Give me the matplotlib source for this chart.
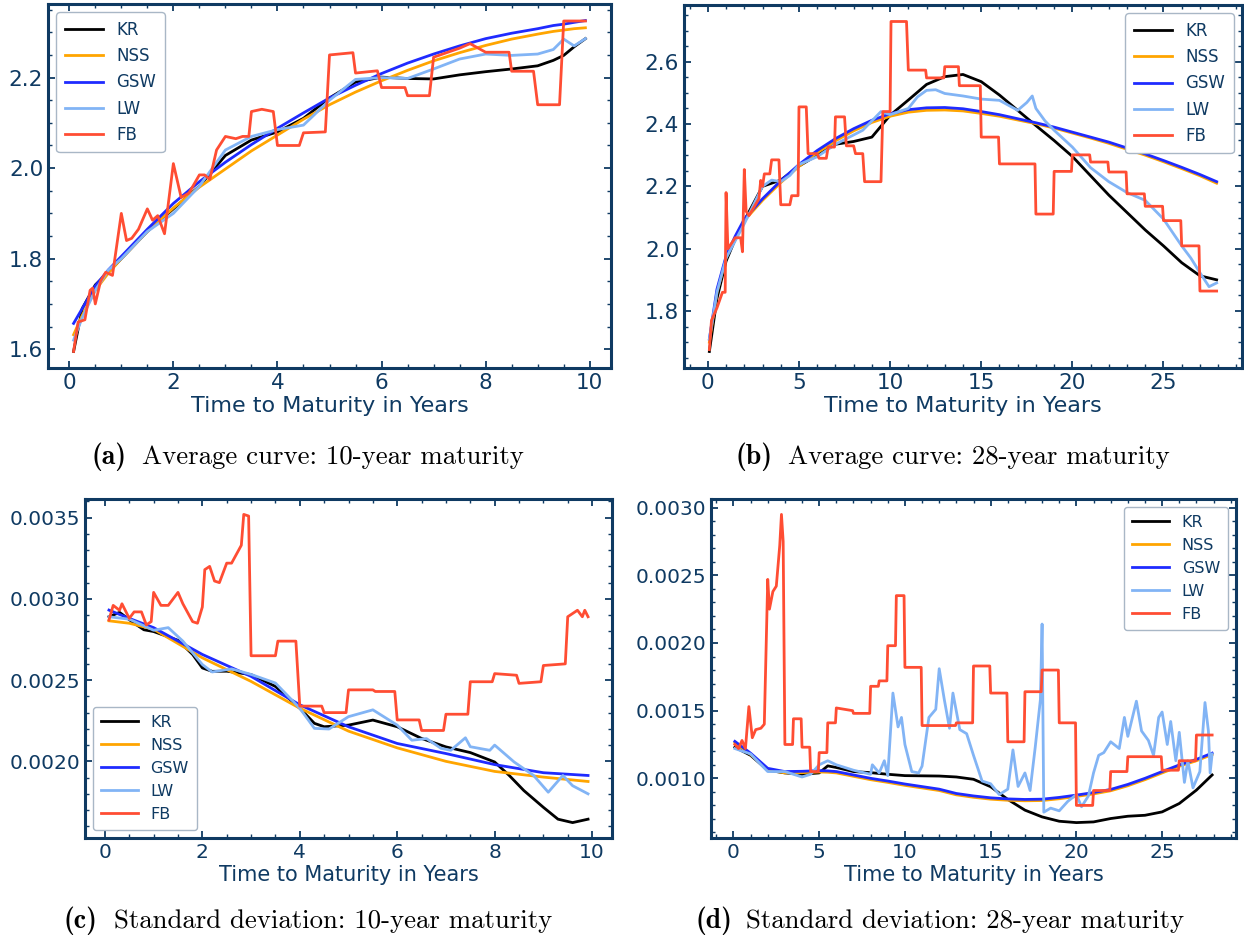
import matplotlib
matplotlib.use("Agg")
from matplotlib import pyplot as plt
from matplotlib.ticker import AutoMinorLocator

NAVY = "#0f3a62"
NAMES = ["KR", "NSS", "GSW", "LW", "FB"]
COLORS = {"KR": "black", "NSS": "#ffa500", "GSW": "#1f2bff", "LW": "#82b4f5", "FB": "#ff4d33"}

# ---- (a) average curve, 10-year maturity ----
a_x = [0.083, 0.25, 0.5, 0.75, 1, 1.5, 2, 2.5, 3, 3.5, 4, 4.5, 5, 5.5, 6, 6.5, 7, 7.5, 8, 8.5, 9, 9.3, 9.5, 9.7, 9.917]
a_gsw = [1.657, 1.69, 1.74, 1.775, 1.805, 1.865, 1.922, 1.97, 2.013, 2.052, 2.088, 2.122, 2.155, 2.183, 2.209,
         2.232, 2.252, 2.27, 2.286, 2.298, 2.308, 2.315, 2.318, 2.322, 2.326]
a_nss = [1.632, 1.675, 1.73, 1.768, 1.80, 1.86, 1.912, 1.958, 1.998, 2.038, 2.073, 2.108, 2.14, 2.168, 2.193,
         2.216, 2.237, 2.255, 2.271, 2.285, 2.296, 2.302, 2.305, 2.308, 2.31]
a_kr = [1.595, 1.69, 1.742, 1.77, 1.80, 1.86, 1.91, 1.96, 2.028, 2.062, 2.08, 2.11, 2.155, 2.19, 2.201,
        2.198, 2.197, 2.206, 2.213, 2.219, 2.226, 2.238, 2.249, 2.268, 2.286]
a_lw = [1.62, 1.67, 1.73, 1.775, 1.80, 1.86, 1.90, 1.96, 2.04, 2.07, 2.085, 2.095, 2.15, 2.196, 2.2,
        2.198, 2.219, 2.241, 2.252, 2.249, 2.252, 2.262, 2.285, 2.27, 2.286]
a_fb_x = [0.083, 0.17, 0.3, 0.4, 0.45, 0.5, 0.6, 0.7, 0.83, 1.0, 1.1, 1.2, 1.33, 1.5, 1.6, 1.7, 1.83, 2.0,
          2.15, 2.3, 2.5, 2.6, 2.7, 2.83, 3.0, 3.2, 3.33, 3.45, 3.5, 3.7, 3.92, 4.0, 4.42, 4.5, 4.92, 5.0,
          5.45, 5.5, 5.92, 6.0, 6.45, 6.5, 6.92, 7.0, 7.5, 7.7, 8.0, 8.45, 8.5, 8.92, 9.0, 9.42, 9.5, 9.917]
a_fb = [1.595, 1.66, 1.665, 1.73, 1.735, 1.70, 1.75, 1.77, 1.763, 1.90, 1.84, 1.845, 1.865, 1.91, 1.885,
        1.895, 1.855, 2.01, 1.935, 1.945, 1.985, 1.985, 1.975, 2.04, 2.07, 2.065, 2.07, 2.07, 2.125, 2.13,
        2.125, 2.05, 2.05, 2.078, 2.08, 2.25, 2.255, 2.21, 2.215, 2.178, 2.178, 2.16, 2.16, 2.245, 2.265,
        2.275, 2.256, 2.256, 2.214, 2.214, 2.14, 2.14, 2.325, 2.325]

# ---- (b) average curve, 28-year maturity ----
b_x = [0.083, 0.5, 1, 1.5, 2, 3, 4, 5, 6, 7, 8, 9, 10, 11, 12, 13, 14, 15, 16, 17, 18, 19, 20, 21, 22,
       23, 24, 25, 26, 27, 27.917]
b_gsw = [1.71, 1.87, 1.976, 2.04, 2.095, 2.16, 2.218, 2.27, 2.315, 2.353, 2.385, 2.412, 2.433, 2.446, 2.452,
         2.453, 2.449, 2.44, 2.43, 2.417, 2.404, 2.39, 2.374, 2.358, 2.342, 2.323, 2.304, 2.283, 2.261, 2.238, 2.215]
b_nss = [1.70, 1.86, 1.97, 2.035, 2.09, 2.155, 2.212, 2.264, 2.308, 2.346, 2.378, 2.405, 2.425, 2.438, 2.444,
         2.445, 2.442, 2.434, 2.425, 2.413, 2.401, 2.387, 2.371, 2.355, 2.338, 2.319, 2.3, 2.279, 2.257, 2.234, 2.21]
b_kr = [1.67, 1.84, 1.96, 2.03, 2.09, 2.2, 2.22, 2.265, 2.3, 2.335, 2.344, 2.358, 2.428, 2.477, 2.527,
        2.552, 2.559, 2.536, 2.493, 2.444, 2.395, 2.347, 2.296, 2.234, 2.172, 2.116, 2.06, 2.009, 1.955, 1.913, 1.9]
b_lw_x = [0.083, 0.5, 1, 2, 3, 3.5, 4, 4.5, 5, 6, 7, 8, 8.5, 9, 9.5, 10, 11, 11.5, 12, 12.5, 13, 14, 15, 16,
          17, 17.5, 17.8, 18, 18.5, 19, 20, 21, 22, 23, 24, 25, 26, 26.5, 27, 27.5, 27.917]
b_lw = [1.71, 1.86, 1.97, 2.08, 2.2, 2.22, 2.215, 2.235, 2.27, 2.295, 2.335, 2.365, 2.38, 2.41, 2.44, 2.43,
        2.45, 2.487, 2.508, 2.51, 2.498, 2.49, 2.48, 2.476, 2.444, 2.469, 2.49, 2.45, 2.41, 2.38, 2.326, 2.26,
        2.215, 2.18, 2.155, 2.095, 2.009, 1.97, 1.923, 1.878, 1.89]
b_fb_x = [0.083, 0.2, 0.5, 0.8, 0.95, 1.0, 1.1, 1.5, 1.8, 1.9, 2.0, 2.1, 2.25, 2.5, 2.8, 2.9, 3.0, 3.1, 3.4,
          3.5, 3.9, 4.0, 4.5, 4.6, 4.95, 5.0, 5.4, 5.5, 6.0, 6.1, 6.5, 6.6, 6.95, 7.0, 7.5, 7.6, 8.0, 8.1,
          8.5, 8.6, 9.5, 9.6, 10.0, 10.05, 10.9, 11.0, 11.95, 12.0, 12.95, 13.0, 13.75, 13.8, 14.95, 15.0,
          15.95, 16.0, 17.95, 18.0, 18.95, 19.0, 19.95, 20.0, 20.95, 21.0, 21.95, 22.0, 22.95, 23.0, 23.95,
          24.0, 24.95, 25.0, 25.95, 26.0, 26.95, 27.0, 27.917]
b_fb = [1.676, 1.77, 1.81, 1.86, 1.86, 2.18, 2.0, 2.035, 2.035, 1.99, 2.254, 2.12, 2.106, 2.13, 2.16, 2.219,
        2.2, 2.24, 2.24, 2.285, 2.285, 2.141, 2.141, 2.17, 2.17, 2.455, 2.455, 2.305, 2.305, 2.29, 2.29, 2.326,
        2.326, 2.423, 2.423, 2.33, 2.33, 2.305, 2.305, 2.215, 2.215, 2.44, 2.44, 2.729, 2.729, 2.573, 2.573,
        2.548, 2.548, 2.584, 2.584, 2.523, 2.523, 2.358, 2.358, 2.272, 2.272, 2.111, 2.111, 2.248, 2.248,
        2.301, 2.301, 2.278, 2.278, 2.246, 2.246, 2.176, 2.176, 2.136, 2.136, 2.09, 2.09, 2.009, 2.009,
        1.864, 1.864]

# ---- (c) standard deviation, 10-year maturity ----
c_x = [0.083, 0.5, 1, 2, 3, 4, 5, 6, 7, 8, 9, 9.917]
c_gsw = [0.002931, 0.00288, 0.002823, 0.002658, 0.002523, 0.002348, 0.002213, 0.00211, 0.002048, 0.00198,
         0.00193, 0.001913]
c_nss = [0.002865, 0.00285, 0.002813, 0.002637, 0.002492, 0.002327, 0.002186, 0.002083, 0.0020, 0.001938,
         0.001903, 0.001876]
c_kr_x = [0.083, 0.3, 0.6, 0.8, 1.0, 1.5, 1.8, 2.0, 2.2, 2.5, 3.0, 3.5, 4.0, 4.3, 4.5, 5.0, 5.5, 6.0, 6.5,
          7.0, 7.5, 8.0, 8.3, 8.6, 9.0, 9.3, 9.6, 9.917]
c_kr = [0.00289, 0.002917, 0.00285, 0.00281, 0.002799, 0.002745, 0.002658, 0.002575, 0.002554, 0.002555,
        0.002534, 0.002461, 0.002327, 0.002234, 0.002213, 0.002223, 0.002254, 0.002213, 0.002141, 0.002089,
        0.002054, 0.001996, 0.001913, 0.00182, 0.001717, 0.001644, 0.001623, 0.001644]
c_lw_x = [0.083, 0.5, 1.0, 1.3, 1.6, 2.0, 2.2, 2.6, 3.0, 3.5, 4.0, 4.3, 4.6, 5.0, 5.5, 6.0, 6.3, 6.6, 6.9,
          7.1, 7.4, 7.5, 7.9, 8.0, 8.4, 8.8, 9.1, 9.4, 9.6, 9.917]
c_lw = [0.00289, 0.002875, 0.002807, 0.002823, 0.00274, 0.002596, 0.00255, 0.002569, 0.002535, 0.002482,
        0.002327, 0.002203, 0.002199, 0.002275, 0.002317, 0.002223, 0.00213, 0.00214, 0.00208, 0.002068,
        0.002145, 0.00209, 0.002068, 0.0021, 0.001996, 0.001913, 0.00181, 0.001913, 0.00185, 0.0018]
c_fb_x = [0.083, 0.17, 0.3, 0.35, 0.5, 0.6, 0.75, 0.85, 0.95, 1.0, 1.15, 1.3, 1.5, 1.6, 1.8, 1.9, 2.0, 2.05,
          2.15, 2.25, 2.35, 2.5, 2.6, 2.8, 2.85, 2.95, 3.0, 3.5, 3.55, 3.92, 4.0, 4.45, 4.5, 4.95, 5.0, 5.5,
          5.55, 5.95, 6.0, 6.45, 6.5, 6.95, 7.0, 7.45, 7.5, 7.95, 8.0, 8.45, 8.5, 8.95, 9.0, 9.45, 9.5, 9.7,
          9.8, 9.85, 9.917]
c_fb = [0.00287, 0.00296, 0.00293, 0.00297, 0.00288, 0.00292, 0.00292, 0.00284, 0.00286, 0.00304, 0.00296,
        0.00296, 0.00304, 0.00297, 0.00286, 0.00285, 0.00295, 0.00318, 0.0032, 0.00311, 0.0031, 0.00322,
        0.00322, 0.00333, 0.00352, 0.00351, 0.00265, 0.00265, 0.00274, 0.00274, 0.00234, 0.00234, 0.0023,
        0.0023, 0.00244, 0.00244, 0.00243, 0.00243, 0.002255, 0.002255, 0.00219, 0.00219, 0.00229, 0.00229,
        0.00249, 0.00249, 0.00254, 0.00253, 0.00248, 0.00249, 0.00259, 0.0026, 0.00289, 0.00293, 0.00289,
        0.00293, 0.00289]

# ---- (d) standard deviation, 28-year maturity ----
d_x = [0.083, 1, 2, 3, 4, 5, 5.5, 6, 7, 8, 9, 10, 12, 13, 14, 15, 16, 17, 18, 19, 20, 21, 22, 23, 24, 25,
       26, 27, 27.917]
d_gsw = [0.001273, 0.001186, 0.001074, 0.00105, 0.001052, 0.001057, 0.001055, 0.00105, 0.001025, 0.001,
         0.00098, 0.000958, 0.00092, 0.000888, 0.00087, 0.000856, 0.000848, 0.000844, 0.000846, 0.000859,
         0.000876, 0.000895, 0.000918, 0.000955, 0.001, 0.00105, 0.001099, 0.00114, 0.001186]
d_nss = [0.001263, 0.001176, 0.001064, 0.00104, 0.001042, 0.001047, 0.001045, 0.00104, 0.001015, 0.00099,
         0.00097, 0.000948, 0.00091, 0.000878, 0.00086, 0.000846, 0.000838, 0.000834, 0.000836, 0.000849,
         0.000866, 0.000885, 0.000908, 0.000945, 0.00099, 0.00104, 0.001089, 0.00113, 0.001176]
d_kr = [0.00123, 0.00117, 0.00106, 0.00104, 0.00103, 0.00104, 0.001092, 0.00108, 0.00105, 0.001042, 0.00103,
        0.00102, 0.001017, 0.00101, 0.000993, 0.000938, 0.000844, 0.000765, 0.000715, 0.000683, 0.000673,
        0.000678, 0.000703, 0.00072, 0.000727, 0.000752, 0.000814, 0.000913, 0.001025]
d_lw_x = [0.083, 1, 2, 3, 4, 4.5, 5, 5.5, 6, 7, 8, 8.1, 8.5, 8.8, 9, 9.3, 9.6, 9.8, 10, 10.4, 10.8, 11, 11.4,
          11.8, 12.0, 12.3, 12.6, 12.8, 13.2, 13.6, 14.0, 14.5, 15.0, 15.5, 16.0, 16.3, 16.6, 17.0, 17.3, 17.6,
          17.9, 18.0, 18.1, 18.5, 19.0, 19.5, 20.0, 20.3, 20.7, 21.0, 21.3, 21.6, 22.0, 22.5, 22.8, 23.0, 23.5,
          23.8, 24.2, 24.5, 24.8, 25.0, 25.3, 25.5, 25.8, 26.0, 26.3, 26.5, 26.8, 27.2, 27.5, 27.7, 27.8, 27.917]
d_lw = [0.00122, 0.00118, 0.00105, 0.00105, 0.00101, 0.00103, 0.0011, 0.00113, 0.0011, 0.00106, 0.00103,
        0.0011, 0.00104, 0.00113, 0.00102, 0.00163, 0.00138, 0.00145, 0.00125, 0.00105, 0.00104, 0.00109,
        0.00145, 0.00151, 0.00181, 0.00158, 0.00137, 0.00163, 0.00136, 0.00133, 0.00117, 0.00098, 0.00096,
        0.00088, 0.00092, 0.00121, 0.00094, 0.00104, 0.00091, 0.00123, 0.00158, 0.00214, 0.00075, 0.00078,
        0.00076, 0.00083, 0.00088, 0.00079, 0.00087, 0.00104, 0.00117, 0.00119, 0.00127, 0.00122, 0.00145,
        0.00131, 0.00157, 0.00135, 0.00128, 0.00117, 0.00145, 0.00149, 0.00125, 0.00142, 0.00113, 0.00134,
        0.00097, 0.00113, 0.00093, 0.00105, 0.00156, 0.00135, 0.00104, 0.00118]
d_fb_x = [0.083, 0.3, 0.5, 0.7, 0.9, 1.1, 1.3, 1.6, 1.8, 2.0, 2.1, 2.3, 2.5, 2.7, 2.8, 2.9, 3.0, 3.45, 3.5,
          3.95, 4.0, 4.45, 4.5, 4.95, 5.0, 5.45, 5.5, 5.95, 6.0, 6.95, 7.0, 7.95, 8.0, 8.45, 8.5, 8.95, 9.0,
          9.45, 9.5, 9.95, 10.0, 10.95, 11.0, 12.95, 13.0, 13.95, 14.0, 14.95, 15.0, 15.95, 16.0, 16.95, 17.0,
          17.95, 18.0, 18.95, 19.0, 19.95, 20.0, 20.95, 21.0, 21.95, 22.0, 22.95, 23.0, 24.95, 25.0, 25.95,
          26.0, 26.95, 27.0, 27.917]
d_fb = [0.00125, 0.00122, 0.00128, 0.00122, 0.00153, 0.0013, 0.00136, 0.00137, 0.0014, 0.00247, 0.00225,
        0.00238, 0.00242, 0.00272, 0.00295, 0.00275, 0.00125, 0.00125, 0.00144, 0.00144, 0.00123, 0.00123,
        0.00105, 0.00105, 0.00119, 0.00119, 0.00141, 0.00141, 0.00152, 0.0015, 0.00148, 0.00148, 0.00168,
        0.00168, 0.00172, 0.00172, 0.00198, 0.00198, 0.00235, 0.00235, 0.00182, 0.00182, 0.00139, 0.00139,
        0.00141, 0.00141, 0.00183, 0.00183, 0.00163, 0.00163, 0.00127, 0.00127, 0.00164, 0.00164, 0.0018,
        0.0018, 0.00141, 0.00141, 0.0008, 0.0008, 0.00091, 0.00091, 0.00105, 0.00105, 0.00116, 0.00116,
        0.00106, 0.00106, 0.00113, 0.00113, 0.00132, 0.00132]

W, H = 1244, 941


def px_axes(fig, left, top, right, bottom):
    return fig.add_axes([left / W, 1 - bottom / H, (right - left) / W, (bottom - top) / H])


def style_ax(ax, fs_tick, fs_label):
    for s in ax.spines.values():
        s.set_color(NAVY)
        s.set_linewidth(2.2)
    ax.xaxis.set_minor_locator(AutoMinorLocator())
    ax.yaxis.set_minor_locator(AutoMinorLocator())
    ax.tick_params(which="both", direction="in", top=True, right=True,
                   color=NAVY, labelcolor=NAVY, labelsize=fs_tick)
    ax.tick_params(which="major", length=5, width=1.3)
    ax.tick_params(which="minor", length=3, width=1.0)
    ax.set_xlabel("Time to Maturity in Years", fontsize=fs_label, color=NAVY, labelpad=2)


def add_legend(ax, loc, fs):
    leg = ax.legend(loc=loc, fontsize=fs, handlelength=2.3, borderpad=0.5, labelspacing=0.5,
                    fancybox=True, framealpha=1.0, edgecolor="#a9b7c6")
    for t in leg.get_texts():
        t.set_color(NAVY)


def caption(fig, x_lab, x_txt, y, lab, txt):
    fig.text(x_lab / W, 1 - y / H, lab, family="cmb10", fontsize=20, va="center", color="black")
    fig.text(x_txt / W, 1 - y / H, txt, family="cmr10", fontsize=19.3, va="center", color="black")


fig = plt.figure(figsize=(W / 100, H / 100), dpi=100)

# (a)
ax = px_axes(fig, 48, 4, 611, 368)
ax.plot(a_x, a_kr, color=COLORS["KR"], lw=2, label="KR")
ax.plot(a_x, a_nss, color=COLORS["NSS"], lw=2, label="NSS")
ax.plot(a_x, a_gsw, color=COLORS["GSW"], lw=2, label="GSW")
ax.plot(a_x, a_lw, color=COLORS["LW"], lw=2, label="LW")
ax.plot(a_fb_x, a_fb, color=COLORS["FB"], lw=2, label="FB")
style_ax(ax, 15.5, 16)
add_legend(ax, "upper left", 12)

# (b)
ax = px_axes(fig, 684, 5, 1242, 368)
ax.plot(b_x, b_kr, color=COLORS["KR"], lw=2, label="KR")
ax.plot(b_x, b_nss, color=COLORS["NSS"], lw=2, label="NSS")
ax.plot(b_x, b_gsw, color=COLORS["GSW"], lw=2, label="GSW")
ax.plot(b_lw_x, b_lw, color=COLORS["LW"], lw=2, label="LW")
ax.plot(b_fb_x, b_fb, color=COLORS["FB"], lw=2, label="FB")
style_ax(ax, 15.5, 16)
add_legend(ax, "upper right", 12)

# (c)
ax = px_axes(fig, 85, 499, 612, 838)
ax.plot(c_kr_x, c_kr, color=COLORS["KR"], lw=2, label="KR")
ax.plot(c_x, c_nss, color=COLORS["NSS"], lw=2, label="NSS")
ax.plot(c_x, c_gsw, color=COLORS["GSW"], lw=2, label="GSW")
ax.plot(c_lw_x, c_lw, color=COLORS["LW"], lw=2, label="LW")
ax.plot(c_fb_x, c_fb, color=COLORS["FB"], lw=2, label="FB")
style_ax(ax, 14.5, 15)
add_legend(ax, "lower left", 11.5)

# (d)
ax = px_axes(fig, 711, 499, 1236, 838)
ax.plot(d_x, d_kr, color=COLORS["KR"], lw=2, label="KR")
ax.plot(d_x, d_nss, color=COLORS["NSS"], lw=2, label="NSS")
ax.plot(d_x, d_gsw, color=COLORS["GSW"], lw=2, label="GSW")
ax.plot(d_lw_x, d_lw, color=COLORS["LW"], lw=2, label="LW")
ax.plot(d_fb_x, d_fb, color=COLORS["FB"], lw=2, label="FB")
style_ax(ax, 14.5, 15)
add_legend(ax, "upper right", 11.5)

caption(fig, 92, 142, 457, "(a)", "Average curve: 10-year maturity")
caption(fig, 736, 788, 457, "(b)", "Average curve: 28-year maturity")
caption(fig, 64, 114, 921, "(c)", "Standard deviation: 10-year maturity")
caption(fig, 696, 746, 921, "(d)", "Standard deviation: 28-year maturity")

fig.savefig("out.png", dpi=100)
